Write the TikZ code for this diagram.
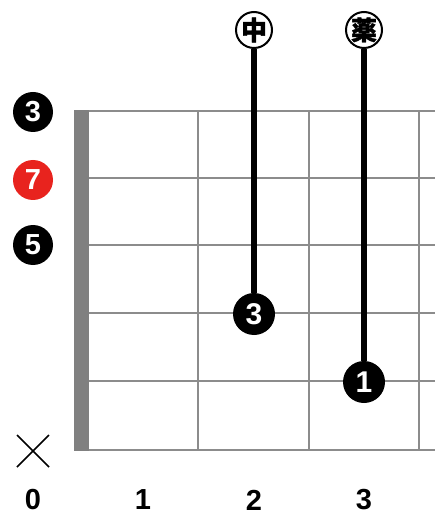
\documentclass[tikz,border=0pt]{standalone}
\usepackage{fontspec}
\setmainfont{Liberation Sans}
\newfontfamily\cjk{Noto Sans CJK JP}[BoldFeatures={FakeBold=1.2}]
\definecolor{gridgray}{HTML}{8C8C8C}
\definecolor{nutgray}{HTML}{808080}
\definecolor{notered}{HTML}{E8231E}
\tikzset{
  gridline/.style={draw=gridgray, line width=1.8pt},
  notedot/.style={circle, fill=black, inner sep=0pt, minimum size=42pt, text=white,
    font=\bfseries\fontsize{30}{30}\selectfont},
  sidedot/.style={circle, fill=black, inner sep=0pt, minimum size=40pt, text=white,
    font=\bfseries\fontsize{29}{29}\selectfont},
  kanjidot/.style={circle, draw=black, line width=2pt, fill=white, inner sep=0pt, minimum size=36pt,
    font=\cjk\bfseries\fontsize{26}{26}\selectfont},
  stemline/.style={line width=6pt, black},
  fretnum/.style={inner sep=0pt, font=\bfseries\fontsize{29}{29}\selectfont},
  mutemark/.style={line width=1.5pt, black}
}
\begin{document}
\begin{tikzpicture}[x=1pt, y=-1pt]
\useasboundingbox (0,0) rectangle (435,518);
% strings
\foreach \y in {111,178,245,313,381,450} \draw[gridline] (74,\y) -- (435,\y);
% frets
\foreach \x in {198,309,419} \draw[gridline] (\x,111) -- (\x,450);
% nut
\fill[nutgray] (74,110) rectangle (89,451);
% side labels
\node[sidedot] (s1) at (33,112) {3};
\node[sidedot, fill=notered] (s2) at (33,180) {7};
\node[sidedot] (s3) at (33,245) {5};
% mute mark
\coordinate (m1) at (17,435);
\coordinate (m2) at (49,467);
\coordinate (m3) at (17,467);
\coordinate (m4) at (49,435);
\draw[mutemark] (m1) -- (m2);
\draw[mutemark] (m3) -- (m4);
% fretted notes
\node[notedot] (n3) at (254,314) {3};
\node[notedot] (n1) at (364,382) {1};
% finger labels
\node[kanjidot] (k1) at (254,30) {中};
\node[kanjidot] (k2) at (364,30) {薬};
\draw[stemline] (k1.south) -- (n3.north);
\draw[stemline] (k2.south) -- (n1.north);
% fret numbers
\node[fretnum] (f0) at (33,500) {0};
\node[fretnum] (f1) at (143,500) {1};
\node[fretnum] (f2) at (254,500) {2};
\node[fretnum] (f3) at (364,500) {3};
\end{tikzpicture}
\end{document}
